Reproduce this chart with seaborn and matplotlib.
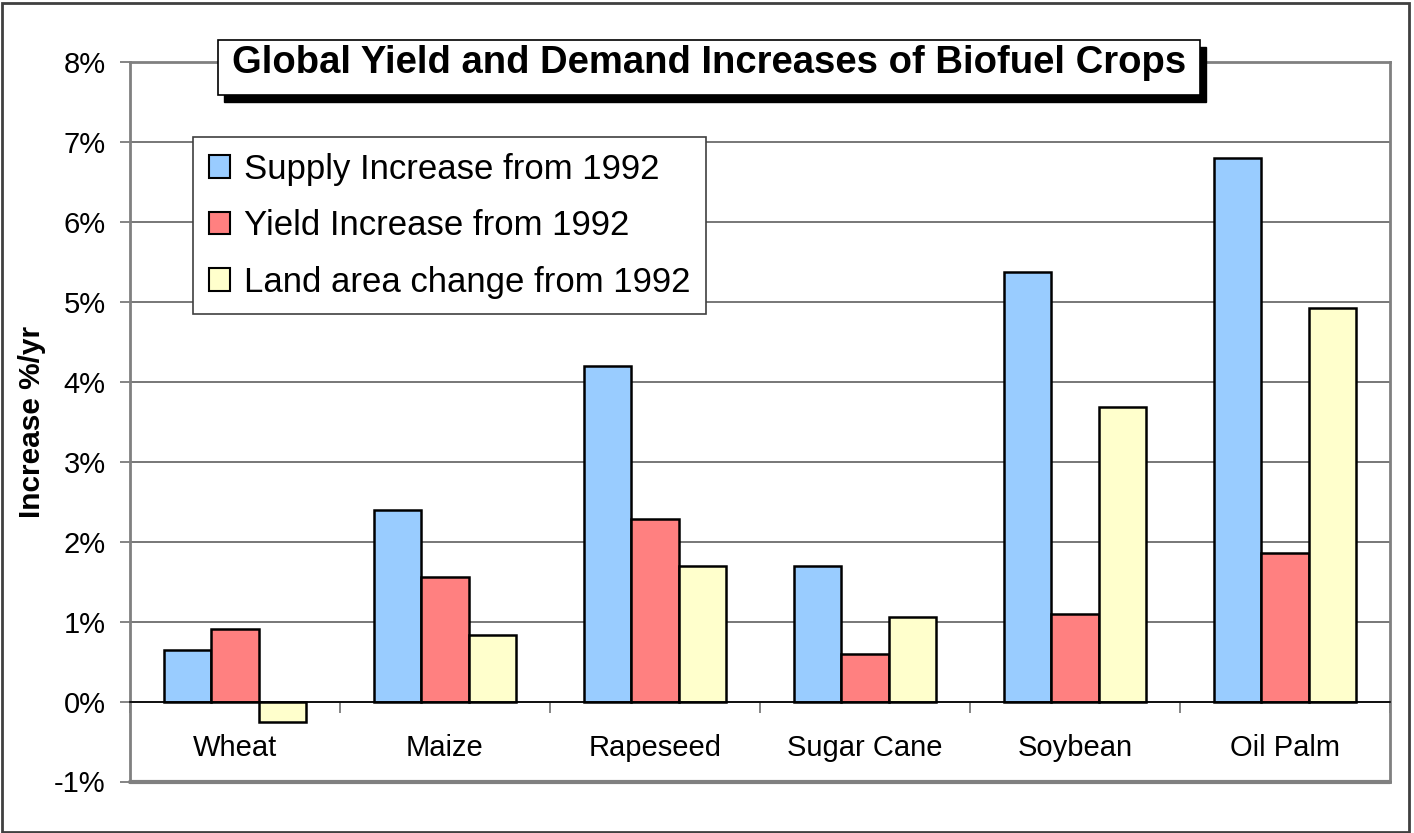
import matplotlib
matplotlib.use("Agg")
import matplotlib.pyplot as plt
import numpy as np
import pandas as pd
import seaborn as sns
from matplotlib.patches import Rectangle, Patch
from matplotlib.ticker import FuncFormatter, FixedLocator

crops = ["Wheat", "Maize", "Rapeseed", "Sugar Cane", "Soybean", "Oil Palm"]
supply = [0.65, 2.40, 4.20, 1.69, 5.37, 6.80]
yield_inc = [0.91, 1.56, 2.28, 0.59, 1.09, 1.86]
land = [-0.26, 0.83, 1.69, 1.06, 3.68, 4.92]
series = ["Supply Increase from 1992", "Yield Increase from 1992", "Land area change from 1992"]
colors = ["#99CCFF", "#FF8080", "#FFFFCC"]

df = pd.DataFrame({
    "crop": crops * 3,
    "series": [series[0]] * 6 + [series[1]] * 6 + [series[2]] * 6,
    "value": supply + yield_inc + land,
})

sns.set_theme(style="white")
plt.rcParams["font.family"] = ["Liberation Sans", "DejaVu Sans"]
plt.rcParams["text.color"] = "black"

fig = plt.figure(figsize=(14.14, 8.33), dpi=100)
W, H = 1414, 833
ax = fig.add_axes([130 / W, 1 - 781.5 / H, 1260 / W, 719.5 / H])

sns.barplot(data=df, x="crop", y="value", hue="series", palette=colors,
            width=0.68, edgecolor="black", linewidth=1.8, saturation=1,
            legend=False, ax=ax)

ax.set_ylim(-1, 8)
ax.set_xlim(-0.5, len(crops) - 0.5)
ax.yaxis.set_major_locator(FixedLocator(np.arange(-1, 9)))
ax.yaxis.set_major_formatter(FuncFormatter(lambda v, p: f"{v:.0f}%"))
ax.grid(axis="y", color="#606060", linewidth=1.2)
ax.set_axisbelow(True)
ax.tick_params(axis="y", left=True, direction="out", length=7.5, width=1.2,
               color="#707070", labelsize=21, pad=10, labelcolor="black")

for side in ["top", "right", "left"]:
    ax.spines[side].set_color("#808080")
    ax.spines[side].set_linewidth(2)
ax.spines["bottom"].set_position(("data", 0))
ax.spines["bottom"].set_color("black")
ax.spines["bottom"].set_linewidth(1.2)
ax.axhline(-1, color="#808080", linewidth=3, clip_on=False, zorder=5)

ax.xaxis.set_minor_locator(FixedLocator(np.arange(-0.5, len(crops), 1)))
ax.tick_params(axis="x", which="minor", bottom=True, direction="out",
               length=8, width=1.2, color="#707070")
ax.tick_params(axis="x", which="major", bottom=False, labelsize=21, pad=17,
               labelcolor="black")
ax.set_xlabel("")
ax.set_ylabel("Increase %/yr", fontsize=21.5, fontweight="bold", color="black")
ax.yaxis.set_label_coords(-0.067, 0.5)

handles = [Patch(facecolor=c, edgecolor="black", linewidth=1.5) for c in colors]
leg = fig.legend(handles, series, loc="upper left",
                 bbox_to_anchor=(193 / W, 1 - 137 / H), fontsize=25,
                 frameon=True, fancybox=False, edgecolor="#404040",
                 framealpha=1, handlelength=0.62, handleheight=0.62,
                 handletextpad=0.4, labelspacing=0.68, borderpad=0.45,
                 borderaxespad=0)
leg.get_frame().set_linewidth(1.2)
for t in leg.get_texts():
    t.set_color("black")

# title box with shadow
bx0, by0, bx1, by1 = 218, 40, 1200, 95
fig.patches.append(Rectangle(((bx0 + 6) / W, 1 - (by1 + 7) / H), (bx1 - bx0) / W,
                             (by1 - by0) / H, transform=fig.transFigure,
                             facecolor="black", edgecolor="black", zorder=10))
fig.patches.append(Rectangle((bx0 / W, 1 - by1 / H), (bx1 - bx0) / W, (by1 - by0) / H,
                             transform=fig.transFigure, facecolor="white",
                             edgecolor="black", linewidth=1.2, zorder=11))
fig.text((bx0 + bx1) / 2 / W, 1 - 63 / H,
         "Global Yield and Demand Increases of Biofuel Crops",
         ha="center", va="center", fontsize=27.5, fontweight="bold",
         color="black", zorder=12)

# outer frame
fig.patches.append(Rectangle((2 / W, 1.5 / H), 1407 / W, 829 / H,
                             transform=fig.transFigure, fill=False,
                             edgecolor="#404040", linewidth=2))

fig.savefig("out.png", dpi=100)
